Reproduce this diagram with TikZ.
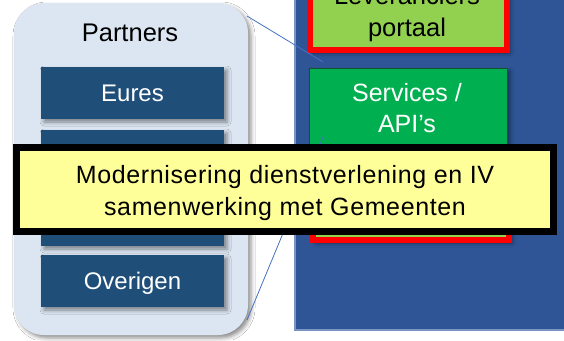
\documentclass[tikz,border=0pt]{standalone}
\usepackage{fontspec}
\setmainfont{Liberation Sans}
\newfontfamily\yfont[LetterSpace=2.5]{Liberation Sans}
\usetikzlibrary{shadows.blur}
\definecolor{bgblue}{HTML}{2F5597}
\definecolor{bgedge}{HTML}{7A95C4}
\definecolor{partfill}{HTML}{DCE6F2}
\definecolor{itemblue}{HTML}{1F4E79}
\definecolor{lgreen}{HTML}{92D050}
\definecolor{dgreen}{HTML}{00B050}
\definecolor{dgedge}{HTML}{14532F}
\definecolor{yfill}{HTML}{FFFF99}
\definecolor{zoomline}{HTML}{4472C4}
\tikzset{
  shad/.style={blur shadow={shadow xshift=3pt, shadow yshift=-3pt, shadow blur radius=4pt, shadow opacity=45}},
  itembox/.style={fill=itemblue, shad},
  redbox/.style={fill=lgreen, draw=red, line width=6pt, shad},
  txt/.style={anchor=base, inner sep=0pt},
  zoomln/.style={draw=zoomline, line width=0.8pt},
}
\begin{document}
\begin{tikzpicture}[x=1pt,y=-1pt]
\clip (0,0) rectangle (564,340);
\fill[white] (0,0) rectangle (564,340);
% blue area
\path[fill=bgblue, draw=bgedge, line width=2pt] (294.5,-5) rectangle (570,329.5);
% partners panel
\path[fill=partfill, rounded corners=30pt, shad] (14,3) rectangle (248,335);
\node[txt, font=\fontsize{25.5}{30}\selectfont] (partners) at (130,41) {Partners};
% partner items
\path[itembox] (41,67) rectangle (224,119);
\node[txt, text=white, font=\fontsize{24}{29}\selectfont] (eures) at (132.5,101.6) {Eures};
\path[itembox] (41,130) rectangle (224,182);
\path[itembox] (41,193) rectangle (224,246);
\path[itembox] (41,255) rectangle (224,307);
\node[txt, text=white, font=\fontsize{24}{29}\selectfont] (overigen) at (132.5,289.6) {Overigen};
% right column
\path[redbox] (310,-30) rectangle (507,50);
\node[txt, font=\fontsize{25.5}{30}\selectfont] (lev1) at (407,5) {Leveranciers};
\node[txt, font=\fontsize{25.5}{30}\selectfont] (lev2) at (407,36) {portaal};
\path[fill=dgreen, draw=dgedge, line width=1pt, shad] (309,68) rectangle (507,150);
\node[txt, text=white, font=\fontsize{25}{30}\selectfont] (serv1) at (407,101) {Services /};
\node[txt, text=white, font=\fontsize{25}{30}\selectfont] (serv2) at (407,132) {API’s};
\path[redbox] (313,160) rectangle (509,240);
% zoom lines
\coordinate (pa) at (247,16);
\coordinate (za) at (323,62);
\coordinate (pb) at (247,320);
\coordinate (zb) at (323,137);
\draw[zoomln] (pa) -- (za);
\draw[zoomln] (pb) -- (zb);
% yellow banner
\path[fill=yfill, draw=black, line width=7pt] (16.5,147.5) rectangle (553.5,231.5);
\node[txt, font=\yfont\fontsize{25}{30}\selectfont] (ban1) at (285,183) {Modernisering dienstverlening en IV};
\node[txt, font=\yfont\fontsize{25}{30}\selectfont] (ban2) at (285,215) {samenwerking met Gemeenten};
\end{tikzpicture}
\end{document}
